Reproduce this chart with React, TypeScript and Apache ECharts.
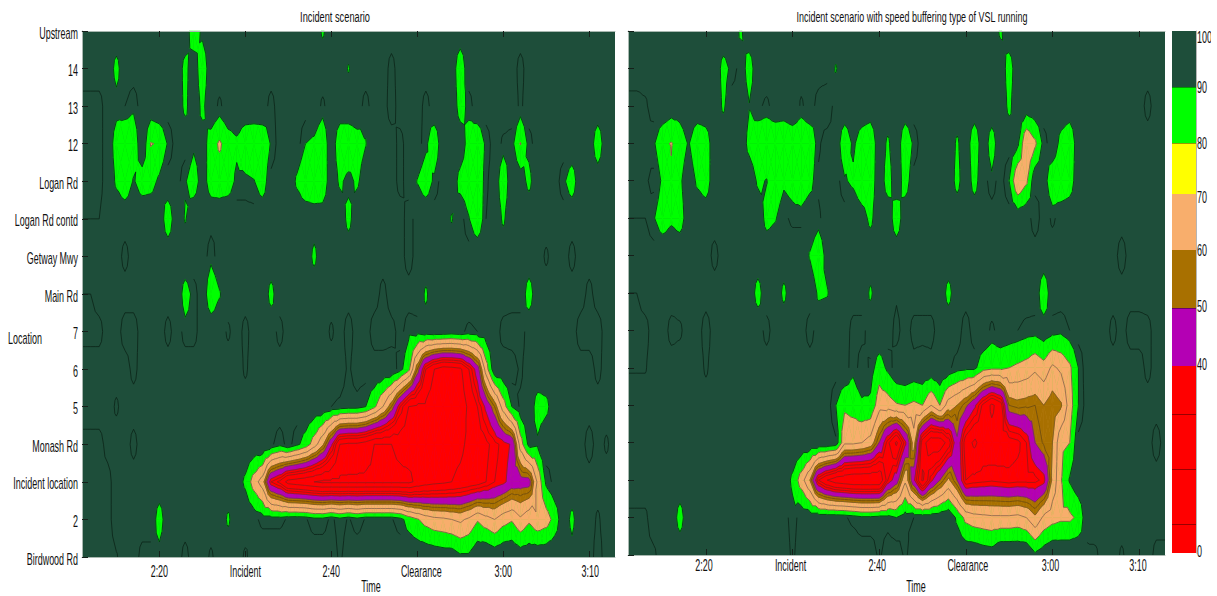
import React, { useEffect, useRef } from "react";
import * as echarts from "echarts";

const FONT = "Liberation Sans";
const START_MINUTE = 131; // 2:11
const COLUMNS = 63;
const BASE_SPEED = 98;

const locationLabels = ["Birdwood Rd", "2", "Incident location", "Monash Rd", "5", "6", "7", "Main Rd", "Getway Mwy", "Logan Rd contd", "Logan Rd", "12", "13", "14", "Upstream"];
const timeTicks = [140, 150, 160, 170, 180, 190];
const timeLabels = ["2:20", "Incident", "2:40", "Clearance", "3:00", "3:10"];
const timeLabelNudges = [0, 0, 0, 4, 0, 1];

// Each run: [first column (one per minute), value, value, ...]. Cells not listed hold BASE_SPEED.
const leftRow14 = [[13, 81, 93], [28, 88]];
const leftRow13 = [[4, 86], [12, 86], [14, 81], [31, 89], [36, 93], [44, 81], [51, 93]];
const leftRow12 = [[0, 93, 93, 93], [4, 94, 95, 92], [8, 96], [12, 87], [14, 87], [16, 94], [22, 93], [28, 94], [33, 93], [36, 92], [40, 93], [44, 85, 93], [46, 98], [51, 94]];
const leftRow11 = [[0, 93, 93, 93], [4, 84, 81, 82, 98, 79.5, 81, 91], [13, 92, 95, 85, 78.5, 85, 88, 82, 81, 82, 91], [26, 90, 88, 81, 98, 81, 81, 85, 89.5], [37, 93], [40, 92, 82], [44, 97, 85, 81, 92], [49, 94, 93, 79.5, 93], [60, 82]];
const leftRow10 = [[0, 93, 93, 93], [4, 88, 82, 91, 85, 86, 92], [12, 91, 84, 95, 85, 85, 85, 92, 92, 90.5, 84, 97], [25, 88, 81, 81, 82, 97, 88, 93, 88, 96], [37, 93], [39, 89.5, 84, 92], [43, 97, 86, 84, 81, 94], [49, 81], [51, 95, 87], [56, 92, 84], [60, 97]];
const leftRow09 = [[0, 95, 95, 95], [10, 82], [12, 89], [15, 97, 96], [27, 96, 96], [31, 86], [38, 92], [43, 89], [45, 90.5, 82, 95], [49, 88]];
const leftRow08 = [[5, 93], [15, 92.5], [27, 87], [38, 92], [54, 94], [57, 93]];
const leftRow07 = [[0, 95, 95], [12, 85, 93], [15, 81, 89], [22, 86], [35, 93], [40, 88], [52, 84], [59, 93]];
const leftRow06 = [[0, 93, 93, 93], [5, 92, 92], [10, 93], [12, 93, 93], [17, 94], [19, 93], [23, 93], [29, 94], [31, 92], [34, 92, 92, 93, 97, 92, 93, 95, 96, 96, 95, 96, 94, 95, 96], [49, 93, 92, 92], [58, 92, 92, 92]];
const leftRow05 = [[6, 93], [19, 94], [31, 94], [37, 93, 83, 55, 30, 20, 15, 16, 18, 30, 45, 75, 97], [51, 94], [60, 93]];
const leftRow04 = [[4, 94], [26, 98, 97, 97, 95, 94, 93, 93, 90, 82, 70, 55, 35, 20, 18, 18, 14, 10, 12, 14, 22, 30, 42, 55, 75, 90, 96, 97, 85, 87, 97]];
const leftRow03 = [[0, 93, 93, 93, 97], [6, 93], [21, 99, 96, 92.5, 97, 92, 86, 75, 62, 42, 20, 18, 18, 15, 10, 10, 10, 12, 14, 13, 12, 14, 16, 17, 18, 22, 25, 28, 33, 37, 41, 75, 93, 91.5, 99], [59, 92], [61, 94]];
const leftRow02 = [[0, 93, 93, 93, 93], [18, 95, 88, 75, 65, 35, 28, 16, 14, 12, 10, 8, 8, 8, 8, 8, 8, 8, 8, 8, 8, 8, 12, 15, 17, 18, 20, 22, 24, 26, 30, 35, 38, 44, 45, 46, 72, 92, 97]];
const leftRow01 = [[0, 93, 93, 93, 93], [9, 84], [17, 88], [20, 96, 94, 94, 94, 95.5, 96, 95.5, 93, 93, 96, 93, 95.5, 93, 95.4, 95.4, 95.4, 95.4, 93, 86, 81, 76, 73, 72, 70, 68, 72, 79, 74, 70, 76, 79, 72, 78, 72, 75, 84, 97, 87], [60, 94]];
const leftRow00 = [[0, 93, 93, 93, 93, 94.5], [7, 93, 93, 94], [12, 93], [15, 94], [19, 94], [30, 94], [41, 97, 96, 96, 92, 92, 98, 100, 97, 99, 99, 96, 97], [57, 94], [60, 92]];

const rightRow14 = [[13, 88], [43, 88]];
const rightRow13 = [[11, 86, 92.5, 97, 84], [24, 89], [44, 84]];
const rightRow12 = [[0, 93, 93, 94], [5, 95, 95], [8, 98], [11, 88], [14, 90.5, 96, 94, 97, 96, 100, 94, 98, 92.5, 90.5], [28, 97], [44, 87], [46, 96], [51, 97], [60, 93]];
const rightRow11 = [[0, 93, 93, 94, 91, 82, 79.5, 84, 91, 81, 84, 97], [14, 86, 81, 81, 81, 81, 81, 81, 82, 94], [24, 97, 82, 92, 84, 81, 97, 88, 98, 81, 92], [38, 88], [40, 81], [42, 84], [45, 92, 70, 78, 93], [50, 86, 81, 97]];
const rightRow10 = [[0, 93, 93, 94, 97, 88, 81, 88, 97, 88, 84, 97], [14, 98, 88, 90.5, 82, 88, 85, 81, 86, 96], [25, 91, 88, 81, 82, 98, 84], [32, 84, 97], [38, 86], [40, 85], [42, 92], [44, 90, 70, 78, 97, 95, 82, 81, 84, 97]];
const rightRow09 = [[0, 95, 95, 95, 90.5, 84, 88, 85, 96], [9, 97], [16, 86, 89, 96, 94, 94, 98, 94], [27, 95, 87], [31, 82], [45, 96], [47, 92], [49, 94, 97]];
const rightRow08 = [[0, 96], [10, 93], [21, 89, 81, 95], [57, 92]];
const rightRow07 = [[0, 95, 95], [15, 85], [18, 87], [22, 88, 89], [28, 88], [31, 96], [37, 86], [48, 81]];
const rightRow06 = [[0, 93, 93, 93], [5, 93, 94], [9, 92], [16, 93], [21, 92.5], [26, 93, 93], [31, 93], [33, 93, 93, 93], [39, 92], [41, 98, 94, 97, 96, 95, 93.5, 93, 96, 93, 92, 95, 98], [56, 93], [58, 92, 92, 93]];
const rightRow05 = [[0, 94.5, 94.5, 94.5], [9, 94], [25, 98, 92, 98, 94, 85, 92, 98, 99, 97, 98, 97, 99, 96, 93, 92, 92, 84, 82, 82, 80, 78, 76, 72, 76, 68, 72, 78, 90, 99], [60, 93]];
const rightRow04 = [[24, 90, 82, 84, 88, 88, 74, 75, 79, 80, 78, 80, 70, 80, 65, 60, 52, 42, 28, 18, 25, 55, 57, 56, 55, 60, 55, 59, 75, 90, 98]];
const rightRow03 = [[24, 96, 72, 72, 70, 66, 50, 32, 18, 38, 65, 25, 12, 12, 25, 48, 25, 18, 25, 24, 25, 26, 28, 35, 50, 56, 60, 78, 80, 97], [61, 92]];
const rightRow02 = [[18, 96, 88, 75, 60, 30, 20, 14, 12, 10, 10, 10, 10, 35, 45, 68, 42, 18, 38, 50, 62, 50, 30, 32, 33, 34, 33, 32, 33, 33, 33, 37, 62, 79.5, 91, 97]];
const rightRow01 = [[0, 94, 94, 94], [6, 85], [18, 97, 93, 97, 96, 96, 96, 96, 95.5, 94, 92, 92, 93, 93, 90, 94, 95, 95, 95, 96, 98, 88, 77, 74, 73, 72, 72, 72, 73, 70, 62, 72, 76, 78, 78, 82, 97]];
const rightRow00 = [[0, 94, 94, 94, 94], [19, 94], [29, 94], [32, 94], [40, 98, 96, 95, 100, 100, 100, 100, 92, 96, 99], [53, 94, 94], [57, 94], [61, 93, 93]];

const leftRows = [leftRow00, leftRow01, leftRow02, leftRow03, leftRow04, leftRow05, leftRow06, leftRow07, leftRow08, leftRow09, leftRow10, leftRow11, leftRow12, leftRow13, leftRow14];
const rightRows = [rightRow00, rightRow01, rightRow02, rightRow03, rightRow04, rightRow05, rightRow06, rightRow07, rightRow08, rightRow09, rightRow10, rightRow11, rightRow12, rightRow13, rightRow14];

const fillThresholds = [90, 80, 60, 50, 40];
const fillColors = ["#00FF00", "#F8AE6C", "#A87000", "#B400B4", "#FF0000"];
const lineLevels = [95, 90, 80, 70, 60, 55, 50, 40, 35, 30, 20, 10];
const lineColors = ["#0b2418", "#08201a", "#5f5a3c", "#86644a", "#7a5a28", "#6a4a10", "#6a3a50", "#7a2040", "#961818", "#8c1c1c", "#8c1c1c", "#8c1c1c"];

const DARK = "#1E4E3A";
const barBandHeights = [187, 58, 58, 56, 51, 56, 56];
const barBandColors = ["#FF0000", "#B400B4", "#A87000", "#F8AE6C", "#FFFF00", "#00FF00", DARK];
const barTickPositions = [29, 84, 139, 245, 410, 466];
const barLabelPositions = [2, 189, 247, 303, 356, 410, 466, 516];
const barLabels = ["0", "40", "50", "60", "70", "80", "90", "100"];

const buildGrid = (rows: number[][]) =>
  rows.map((runs) => {
    const row = new Array(COLUMNS).fill(BASE_SPEED);
    runs.forEach(([first, ...vals]) => vals.forEach((v, k) => (row[first + k] = v)));
    return row;
  });

type Pt = [number, number, number];

const clipBelow = (poly: Pt[], level: number): Pt[] => {
  const out: Pt[] = [];
  for (let i = 0; i < poly.length; i++) {
    const a = poly[i];
    const b = poly[(i + 1) % poly.length];
    if (a[2] < level) out.push(a);
    if (a[2] < level !== b[2] < level) {
      const t = (level - a[2]) / (b[2] - a[2]);
      out.push([a[0] + t * (b[0] - a[0]), a[1] + t * (b[1] - a[1]), level]);
    }
  }
  return out;
};

const cellTriangles = (grid: number[][], c: number, j: number): Pt[][] => {
  const a: Pt = [c, j, grid[j][c]];
  const b: Pt = [c + 1, j, grid[j][c + 1]];
  const d: Pt = [c + 1, j + 1, grid[j + 1][c + 1]];
  const e: Pt = [c, j + 1, grid[j + 1][c]];
  const m: Pt = [c + 0.5, j + 0.5, (a[2] + b[2] + d[2] + e[2]) / 4];
  return [[a, b, m], [b, d, m], [d, e, m], [e, a, m]];
};

const cellMin = (grid: number[][], c: number, j: number) => Math.min(grid[j][c], grid[j][c + 1], grid[j + 1][c], grid[j + 1][c + 1]);

const cellsBelow = (grid: number[][], level: number) => {
  const cells: number[][] = [];
  for (let j = 0; j < grid.length - 1; j++)
    for (let c = 0; c < COLUMNS - 1; c++) if (cellMin(grid, c, j) < level) cells.push([START_MINUTE + c, j]);
  return cells;
};

const contourSeries = (grid: number[][], axisIndex: number) => {
  const fills = fillThresholds.map((level, k) => ({
    type: "custom",
    xAxisIndex: axisIndex,
    yAxisIndex: axisIndex,
    silent: true,
    z: 2 + k,
    encode: { x: 0, y: 1 },
    data: cellsBelow(grid, level),
    renderItem: (_: any, api: any) => {
      const c = api.value(0) - START_MINUTE;
      const j = api.value(1);
      const children: any[] = [];
      cellTriangles(grid, c, j).forEach((tri) => {
        const poly = clipBelow(tri, level);
        if (poly.length < 3) return;
        children.push({
          type: "polygon",
          shape: { points: poly.map((p) => api.coord([START_MINUTE + p[0], p[1]])) },
          style: { fill: fillColors[k], stroke: fillColors[k], lineWidth: 0.5 },
        });
      });
      return { type: "group", children };
    },
  }));
  const lines = {
    type: "custom",
    xAxisIndex: axisIndex,
    yAxisIndex: axisIndex,
    silent: true,
    z: 9,
    encode: { x: 0, y: 1 },
    data: cellsBelow(grid, 95.01),
    renderItem: (_: any, api: any) => {
      const c = api.value(0) - START_MINUTE;
      const j = api.value(1);
      const touchesGreen = cellMin(grid, c, j) < 90;
      const children: any[] = [];
      cellTriangles(grid, c, j).forEach((tri) => {
        lineLevels.forEach((level, k) => {
          if (level === 95 && touchesGreen) return;
          const cross: number[][] = [];
          for (let i = 0; i < 3; i++) {
            const a = tri[i];
            const b = tri[(i + 1) % 3];
            if (a[2] < level !== b[2] < level) {
              const t = (level - a[2]) / (b[2] - a[2]);
              cross.push(api.coord([START_MINUTE + a[0] + t * (b[0] - a[0]), a[1] + t * (b[1] - a[1])]));
            }
          }
          if (cross.length === 2)
            children.push({
              type: "line",
              shape: { x1: cross[0][0], y1: cross[0][1], x2: cross[1][0], y2: cross[1][1] },
              style: { stroke: lineColors[k], lineWidth: 0.9, opacity: 0.9 },
            });
        });
      });
      return { type: "group", children };
    },
  };
  return [...fills, lines];
};

const timeAxis = (gridIndex: number, position: string) => ({
  type: "value",
  gridIndex,
  position,
  z: 15,
  min: START_MINUTE,
  max: START_MINUTE + COLUMNS - 1,
  splitLine: { show: false },
  axisLine: { show: true, onZero: false, lineStyle: { color: "#a9b8b0", width: 1 } },
  axisTick: { show: true, inside: true, length: 6, customValues: timeTicks, lineStyle: { color: "#16201a", width: 1 } },
  axisLabel: { show: false },
});

const locationAxis = (gridIndex: number) => ({
  type: "value",
  gridIndex,
  z: 15,
  min: 0,
  max: 14,
  interval: 1,
  splitLine: { show: false },
  axisLine: { show: true, onZero: false, lineStyle: { color: "#a9b8b0", width: 1 } },
  axisTick: { show: true, inside: true, length: 6, lineStyle: { color: "#16201a", width: 1 } },
  axisLabel: { show: false },
});

const TICK_SIZE = 16;
const TICK_SCALE = 0.56;
const text = (x: number, y: number, value: string, align = "center", size = TICK_SIZE, scaleX = TICK_SCALE) => ({
  type: "text",
  x,
  y,
  scaleX,
  z: 20,
  style: { text: value, fontFamily: FONT, fontSize: size, fill: "#111", align, verticalAlign: "middle" },
});

export default function App() {
  const ref = useRef<HTMLDivElement>(null);
  useEffect(() => {
    if (!ref.current) return;
    const chart = echarts.init(ref.current, null, { renderer: "svg" });
    const leftGrid = buildGrid(leftRows);
    const rightGrid = buildGrid(rightRows);
    chart.setOption({
      animation: false,
      backgroundColor: "#fff",
      grid: [
        { left: 82, top: 31, width: 533, height: 526, show: true, backgroundColor: DARK, borderWidth: 0, outerBoundsMode: "none" },
        { left: 628, top: 31, width: 537, height: 524, show: true, backgroundColor: DARK, borderWidth: 0, outerBoundsMode: "none" },
        { left: 1172, top: 31, width: 24, height: 522, outerBoundsMode: "none" },
      ],
      xAxis: [
        timeAxis(0, "bottom"),
        timeAxis(1, "bottom"),
        { type: "category", gridIndex: 2, data: ["speed"], show: false },
        timeAxis(0, "top"),
        timeAxis(1, "top"),
      ],
      yAxis: [
        locationAxis(0),
        locationAxis(1),
        {
          type: "value",
          gridIndex: 2,
          position: "right",
          z: 15,
          min: 0,
          max: 522,
          splitLine: { show: false },
          axisLine: { show: true, lineStyle: { color: "#b5b5b5", width: 1 } },
          axisTick: { show: true, inside: true, length: 24, customValues: barTickPositions, lineStyle: { color: "rgba(0,0,0,0.4)", width: 1 } },
          axisLabel: { show: false },
        },
      ],
      series: [
        ...contourSeries(leftGrid, 0),
        ...contourSeries(rightGrid, 1),
        ...barBandHeights.map((h, k) => ({
          type: "bar",
          xAxisIndex: 2,
          yAxisIndex: 2,
          stack: "bar",
          barWidth: "100%",
          silent: true,
          data: [h],
          itemStyle: { color: barBandColors[k] },
        })),
      ],
    });
    const labelElements: any[] = [];
    locationLabels.forEach((label, v) => {
      labelElements.push(text(78, (chart.convertToPixel({ yAxisIndex: 0 }, v) as number) + 2, label, "right"));
    });
    timeLabels.forEach((label, k) => {
      labelElements.push(text((chart.convertToPixel({ xAxisIndex: 0 }, timeTicks[k]) as number) + timeLabelNudges[k], 571, label));
      labelElements.push(text((chart.convertToPixel({ xAxisIndex: 1 }, timeTicks[k]) as number) - 2 + timeLabelNudges[k], 565, label));
    });
    barLabels.forEach((label, k) => {
      labelElements.push(text(1197, chart.convertToPixel({ yAxisIndex: 2 }, barLabelPositions[k]) as number, label, "left"));
    });
    chart.setOption({
      graphic: {
        elements: [
          ...labelElements,
          text(335, 17, "Incident scenario", "center", 14, 0.66),
          text(912, 17, "Incident scenario with speed buffering type of VSL running", "center", 14, 0.64),
          text(371, 586.5, "Time"),
          text(916, 586, "Time"),
          text(25, 338, "Location"),
          { type: "rect", x: 1211, y: 25, z: 30, shape: { width: 6, height: 24 }, style: { fill: "#fff" } },
        ],
      },
    });
    return () => chart.dispose();
  }, []);
  return <div ref={ref} style={{ position: "absolute", left: 0, top: 0, width: 1217, height: 596 }} />;
}
